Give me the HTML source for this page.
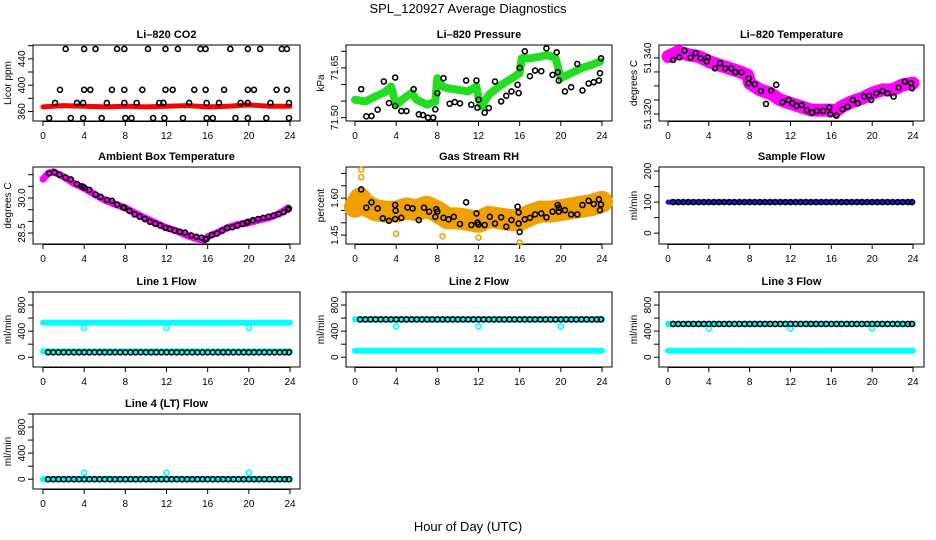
<!DOCTYPE html>
<html><head><meta charset="utf-8"><style>
html,body{margin:0;padding:0;background:#fff;}
svg{display:block;font-family:"Liberation Sans",sans-serif;}
.t{font-weight:bold;font-size:11px;}
.tk{font-size:10px;}
</style></head><body>
<svg id="chart" width="936" height="540" viewBox="0 0 936 540">
<text x="468" y="13" text-anchor="middle" font-size="13">SPL_120927  Average Diagnostics</text>
<text x="468" y="531" text-anchor="middle" font-size="13">Hour of Day (UTC)</text>
</svg>
<script>
// ---- data ----
const xTicks = [0,4,8,12,16,20,24];
const halfHours = [0.5,1,1.5,2,2.5,3,3.5,4,4.5,5,5.5,6,6.5,7,7.5,8,8.5,9,9.5,10,10.5,11,11.5,12,12.5,13,13.5,14,14.5,15,15.5,16,16.5,17,17.5,18,18.5,19,19.5,20,20.5,21,21.5,22,22.5,23,23.5,23.9];

const co2BandH = [0,2,4,6,8,10,12,14,16,18,20,22,24];
const co2BandV = [367,369,368,367,368,367,368,369,367,368,370,368,368];
const co2PtsH = [2.2,4.0,5.1,7.2,7.9,10.2,11.9,13.1,15.3,15.8,18.2,19.9,21.1,23.2,23.7,
 1.65,4.0,4.6,6.7,7.9,9.65,11.9,12.6,14.7,15.8,17.6,19.9,20.5,22.7,23.7,
 1.17,3.3,3.9,6.2,7.9,9.1,11.3,11.7,14.2,15.9,17.1,19.2,19.9,22.1,23.9,
 0.6,2.7,3.9,5.7,8.0,8.6,10.7,11.8,13.6,15.9,16.5,18.7,19.9,21.7,23.9];
const co2PtsV = [455,455,455,455,455,455,455,455,455,455,455,455,455,455,455,
 393,393,393,393,393,393,393,393,393,393,393,393,393,393,393,
 373,373,373,373,373,373,373,373,373,373,373,373,373,373,373,
 350,350,350,350,350,350,350,350,350,350,350,350,350,350,350];

const presBandH = [0,1,2,3,3.5,4,5,5.5,6,7,7.8,8,8.5,9,10,11,11.8,12,12.3,13,14,15,16,16.2,17,18,18.7,19.5,20,21,22,23,23.8];
const presBandV = [71.554,71.549,71.564,71.579,71.594,71.539,71.564,71.574,71.554,71.539,71.549,71.619,71.594,71.589,71.584,71.579,71.594,71.559,71.534,71.569,71.594,71.614,71.634,71.679,71.679,71.684,71.689,71.679,71.619,71.634,71.649,71.659,71.669];
const presPtsH = [0.6,1.1,1.6,2.2,2.8,3.3,3.9,3.9,4.5,5,5.7,6.2,6.6,7.1,7.6,7.8,8,8.6,9.2,9.7,10.2,10.8,11.3,11.8,11.9,12,12.6,13,13.6,14.2,14.7,15.2,15.8,15.9,16,16.5,17,17.5,18.1,18.6,19.2,19.6,19.7,19.8,20.4,21,21.6,22.1,22.7,23.2,23.7,23.8,23.9];
const presPtsV = [71.586,71.504,71.505,71.524,71.609,71.544,71.621,71.535,71.52,71.52,71.586,71.51,71.508,71.50,71.50,71.525,71.574,71.619,71.542,71.547,71.543,71.612,71.539,71.612,71.53,71.554,71.515,71.529,71.609,71.549,71.566,71.579,71.599,71.574,71.65,71.70,71.625,71.642,71.64,71.709,71.629,71.697,71.637,71.612,71.579,71.592,71.662,71.582,71.603,71.607,71.612,71.634,71.679];

const ltBandH = [0,1,2,3,4,5,6,7,7.8,8,9,10,11,12,13,14,15,16,16.5,17,18,19,20,21,22,23,24];
const ltBandV = [51.3405,51.3422,51.3411,51.3405,51.3387,51.3375,51.3363,51.3351,51.3339,51.3310,51.3286,51.3274,51.3250,51.3238,51.3226,51.3214,51.3214,51.3214,51.3211,51.3226,51.3244,51.3256,51.3274,51.3286,51.3286,51.3304,51.3310];
const ltPtsH = [0.5,1.1,1.6,2.2,2.7,3.2,3.8,3.9,4.6,5.1,5.6,6.2,6.6,7.2,7.9,7.9,8.5,9.1,9.6,10.1,10.6,11.2,11.8,12.2,12.6,13.1,13.6,14.1,14.6,15.2,15.8,15.9,16.5,17.1,17.6,18.1,18.6,19.2,19.7,19.9,20.4,21,21.5,22.1,22.6,23.2,23.8,23.9];
const ltPtsV = [51.3393,51.3402,51.3426,51.3401,51.3417,51.3399,51.3387,51.3402,51.3363,51.3381,51.3363,51.3363,51.3349,51.3349,51.3327,51.3310,51.3306,51.3282,51.3236,51.3283,51.3304,51.3242,51.3250,51.3238,51.3229,51.3232,51.3214,51.3205,51.3211,51.3211,51.3223,51.3199,51.3194,51.3217,51.3226,51.3250,51.3238,51.3262,51.3265,51.3250,51.3274,51.3282,51.3274,51.3262,51.3294,51.3315,51.3310,51.3292];

const ambBandH = [0,0.5,1,2,3,4,5,6,7,8,9,10,11,12,13,14,15,15.7,16,17,18,19,20,21,22,23,23.8];
const ambBandV = [30.81,31.06,31.13,30.91,30.63,30.42,30.16,29.91,29.73,29.58,29.34,29.13,28.92,28.73,28.59,28.39,28.24,28.20,28.34,28.53,28.74,28.87,28.94,29.06,29.16,29.34,29.58];
const ambPtsH = [0.6,1.1,1.6,2.2,2.7,3.3,3.8,4.0,4.5,5.1,5.6,6.2,6.7,7.2,7.8,7.9,8.4,8.9,9.4,9.9,10.4,10.9,11.4,11.9,12.3,12.8,13.3,13.8,14.4,14.9,15.4,15.8,15.9,16.4,16.9,17.4,17.9,18.4,18.9,19.4,19.8,19.9,20.4,20.9,21.4,21.9,22.4,22.9,23.4,23.8,23.9];
const ambPtsV = [31.06,31.1,31.0,30.88,30.8,30.6,30.5,30.45,30.35,30.15,30.05,29.92,29.88,29.72,29.6,29.58,29.45,29.3,29.2,29.1,28.98,28.9,28.82,28.72,28.68,28.6,28.55,28.52,28.4,28.34,28.3,28.22,28.25,28.42,28.48,28.6,28.72,28.75,28.82,28.9,28.95,28.98,29.05,29.1,29.15,29.2,29.25,29.32,29.4,29.5,29.55];

const rhBandH = [0,0.5,1,2,3,4,5,6,7,8,9,10,11,12,13,14,15,16,17,18,19,20,21,22,23,24];
const rhBandV = [1.565,1.599,1.572,1.551,1.545,1.545,1.558,1.551,1.565,1.545,1.518,1.518,1.511,1.504,1.524,1.518,1.511,1.511,1.531,1.545,1.545,1.551,1.558,1.565,1.572,1.585];
const rhOutH = [0.6,0.6,4.0,16.0,8.5,12.0];
const rhOutV = [1.715,1.685,1.455,1.42,1.445,1.44];
const rhPtsH = [0.6,1.1,1.6,2.2,2.7,3.3,3.9,3.9,3.95,4.5,5.1,5.6,6.2,6.7,7.2,7.8,7.9,8.0,8.6,9.1,9.6,10.2,10.8,11.3,11.8,11.9,12.0,12.6,13.1,13.6,14.2,14.7,15.2,15.8,15.9,15.9,16.0,16.5,17.0,17.5,18.1,18.6,19.2,19.7,19.8,19.8,20.4,21.0,21.6,22.1,22.7,23.2,23.7,23.8,23.9];
const rhPtsV = [1.635,1.561,1.583,1.558,1.518,1.508,1.572,1.515,1.549,1.520,1.562,1.558,1.511,1.561,1.545,1.524,1.555,1.545,1.520,1.514,1.524,1.495,1.583,1.491,1.538,1.501,1.493,1.491,1.524,1.497,1.522,1.484,1.511,1.565,1.542,1.497,1.463,1.514,1.520,1.534,1.538,1.522,1.545,1.572,1.561,1.545,1.551,1.534,1.534,1.572,1.589,1.576,1.595,1.551,1.574];

const sampleBandH = [0,24];
const sampleBandV = [100,100];
const samplePtsV = halfHours.map(() => 100);

const line1Hi = [530,530]; const line1Lo = [90,90]; const line1Blk = 75;
const line2Hi = [580,580]; const line2Lo = [100,100]; const line2Blk = 580;
const line3Hi = [510,510]; const line3Lo = [100,100]; const line3Blk = 510;
const line4Hi = [0,0]; const line4Lo = [0,0]; const line4Blk = 0;
const outH = [4,12,20];
const line1Out = [450,450,450];
const line2Out = [470,470,470];
const line3Out = [440,440,440];
const line4Out = [100,100,100];
const flowTicks = [0,200,400,600,800,1000];
const flowLabels = ["0","","400","","800",""];

// ---- layout ----
const NS = "http://www.w3.org/2000/svg";
const svg = document.getElementById('chart');
const cols = [{l:33,r:300,x0:43,x24:290},{l:346,r:612,x0:355,x24:602},{l:659,r:924,x0:668,x24:913}];
const rows = [{t:45,b:121},{t:167,b:244},{t:292,b:367},{t:414,b:489}];

function mk(tag, attrs, parent){
  const e = document.createElementNS(NS, tag);
  for (const k in attrs) e.setAttribute(k, attrs[k]);
  (parent||svg).appendChild(e);
  return e;
}

function panel(name, title, ri, ci, ymin, ymax, yTicks, yLabels, ylab){
  const c = cols[ci], r = rows[ri];
  const g = mk('g', {});
  
  
  const xs = h => c.x0 + (c.x24 - c.x0) * h / 24;
  const ys = v => r.b - (v - ymin) / (ymax - ymin) * (r.b - r.t);
  const tt = mk('text', {x:(c.l+c.r)/2, y:r.t-7, 'text-anchor':'middle', class:'t'}, g);
  tt.textContent = title;
  
  
  const box = mk('rect', {x:c.l, y:r.t, width:c.r-c.l, height:r.b-r.t, fill:'none', stroke:'#000', 'stroke-width':1}, g);
  
  
  const xa = mk('g', {}, g);
  
  
  mk('line', {x1:xs(0), x2:xs(24), y1:r.b+0.5, y2:r.b+0.5, stroke:'#000'}, xa);
  xTicks.forEach(h => {
    mk('line', {x1:xs(h), x2:xs(h), y1:r.b, y2:r.b+5, stroke:'#000'}, xa);
    const t = mk('text', {x:xs(h), y:r.b+18, 'text-anchor':'middle', class:'tk'}, xa);
    t.textContent = h;
  });
  const ya = mk('g', {}, g);
  
  
  yTicks.forEach((v, i) => {
    const y = ys(v);
    if (y < r.t - 0.5 || y > r.b + 0.5) return;
    mk('line', {x1:c.l-5, x2:c.l, y1:y, y2:y, stroke:'#000'}, ya);
    if (yLabels[i]) {
      const t = mk('text', {x:c.l-8, y:y, 'text-anchor':'middle', class:'tk', transform:`rotate(-90 ${c.l-8} ${y})`}, ya);
      t.textContent = yLabels[i];
    }
  });
  const yl = mk('text', {x:c.l-22, y:(r.t+r.b)/2, 'text-anchor':'middle', 'font-size':10, transform:`rotate(-90 ${c.l-22} ${(r.t+r.b)/2})`}, g);
  yl.textContent = ylab;
  
  
  const plot = mk('g', {}, g);
  return {
    band(H, V, color, w, nm){
      const p = mk('polyline', {points:H.map((h,i)=>xs(h)+','+ys(V[i])).join(' '), fill:'none', stroke:color, 'stroke-width':w, 'stroke-linecap':'round', 'stroke-linejoin':'round'}, plot);
      
      
    },
    pts(H, V, color, nm, rr, sw){
      const pg = mk('g', {}, plot);
      
      
      H.forEach((h,i) => mk('circle', {cx:xs(h), cy:ys(V[i]), r:rr||2.5, fill:'none', stroke:color, 'stroke-width':sw||1.6}, pg));
    }
  };
}

// CO2
let p = panel('co2', 'Li\u2013820 CO2', 0, 0, 345.6, 461, [360,380,400,420,440,460], ['360','','400','','440',''], 'Licor ppm');
p.band(co2BandH, co2BandV, '#ff0000', 5, 'co2-red-series');
p.pts(co2PtsH, co2PtsV, '#000', 'co2-black-points');

// Pressure
p = panel('pressure', 'Li\u2013820 Pressure', 0, 1, 71.49, 71.719, [71.50,71.55,71.60,71.65,71.70], ['71.50','','','71.65',''], 'kPa');
p.band(presBandH, presBandV, '#22dd22', 8, 'pressure-green-series');
p.pts(presPtsH, presPtsV, '#000', 'pressure-black-points');

// Li temp
p = panel('li-temperature', 'Li\u2013820 Temperature', 0, 2, 51.3175, 51.3446, [51.320,51.325,51.330,51.335,51.340], ['51.320','','','','51.340'], 'degrees C');
p.band(ltBandH, ltBandV, '#ff00ff', 13, 'li-temperature-magenta-series');
p.pts(ltPtsH, ltPtsV, '#000', 'li-temperature-black-points');

// Ambient
p = panel('ambient-temperature', 'Ambient Box Temperature', 1, 0, 28.03, 31.33, [28.5,29.0,29.5,30.0,30.5,31.0], ['28.5','','','30.0','',''], 'degrees C');
p.band(ambBandH, ambBandV, '#ff00ff', 7, 'ambient-magenta-series');
p.pts(ambPtsH, ambPtsV, '#000', 'ambient-black-points');

// RH
p = panel('gas-stream-rh', 'Gas Stream RH', 1, 1, 1.414, 1.726, [1.45,1.50,1.55,1.60,1.65,1.70], ['1.45','','','1.60','',''], 'percent');
p.band(rhBandH, rhBandV, '#f0a000', 22, 'rh-orange-series');
p.pts(rhOutH, rhOutV, '#f0a000', 'rh-orange-outliers');
p.pts(rhPtsH, rhPtsV, '#000', 'rh-black-points');

// Sample flow
p = panel('sample-flow', 'Sample Flow', 1, 2, -35, 213, [0,50,100,150,200], ['0','','100','','200'], 'ml/min');
p.band(sampleBandH, sampleBandV, '#0022ff', 5, 'sample-flow-blue-series');
p.pts(halfHours, samplePtsV, '#000', 'sample-flow-black-points');

// Line flows
const lines = [
  ['line-1-flow','Line 1 Flow',2,0,line1Hi,line1Lo,line1Blk,line1Out],
  ['line-2-flow','Line 2 Flow',2,1,line2Hi,line2Lo,line2Blk,line2Out],
  ['line-3-flow','Line 3 Flow',2,2,line3Hi,line3Lo,line3Blk,line3Out],
  ['line-4-flow','Line 4 (LT) Flow',3,0,line4Hi,line4Lo,line4Blk,line4Out]
];
lines.forEach(L => {
  const q = panel(L[0], L[1], L[2], L[3], -150, 1000, flowTicks, flowLabels, 'ml/min');
  q.band([0,24], L[4], '#00ffff', 6, L[0]+'-cyan-high');
  q.band([0,24], L[5], '#00ffff', 6, L[0]+'-cyan-low');
  q.pts(outH, L[7], '#00ffff', L[0]+'-cyan-outliers', 2.5, 1.6);
  q.pts(halfHours, halfHours.map(() => L[6]), '#000', L[0]+'-black-points');
});
</script>
</body></html>
